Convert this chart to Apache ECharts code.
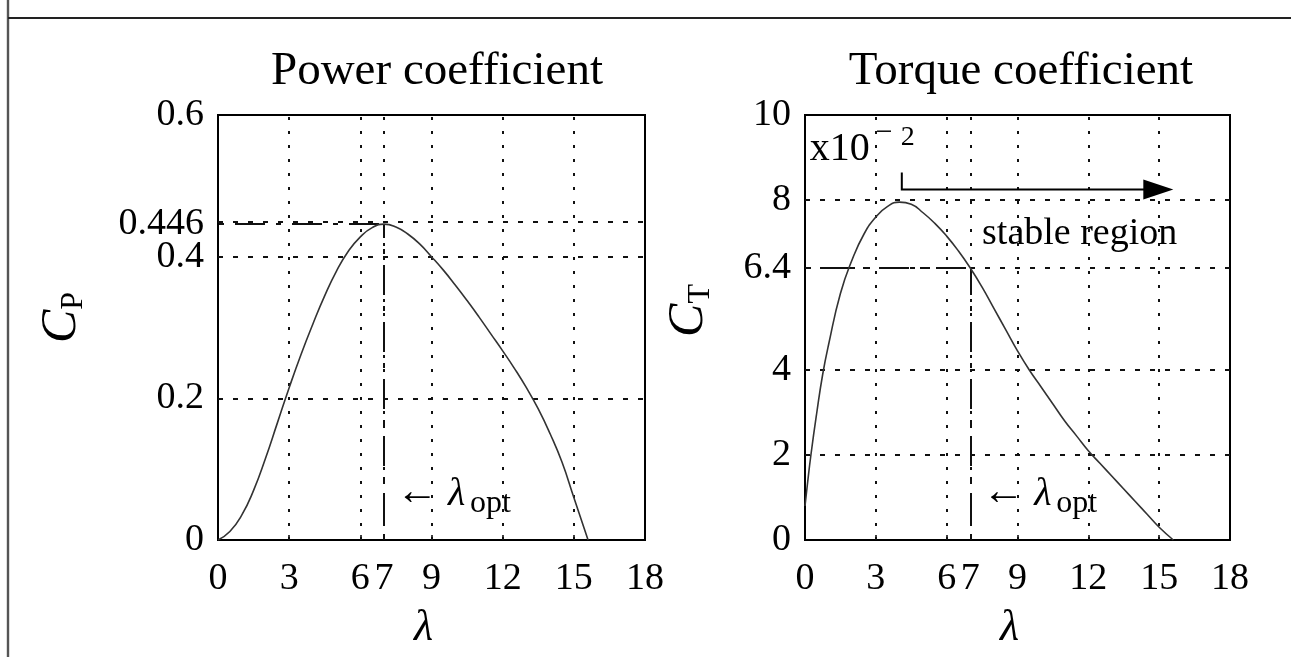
<!DOCTYPE html>
<html>
<head>
<meta charset="utf-8">
<script src="https://cdn.jsdelivr.net/npm/echarts@6/dist/echarts.min.js"></script>
<style>
  html, body { margin: 0; padding: 0; background: #fff; }
  #chart { width: 1291px; height: 657px; }
</style>
</head>
<body>
<div id="chart"></div>
<script>
// Tip speed ratio samples and power coefficient C_P
const lambdaCp = [0, 0.5, 1, 1.5, 2, 2.5, 3, 3.5, 4, 4.5, 5, 5.5, 6, 6.5, 7, 7.5, 8, 8.5, 9, 9.5, 10, 10.5, 11, 11.5, 12, 12.5, 13, 13.5, 14, 14.5, 15, 15.6];
const cpValues = [0, 0.012, 0.035, 0.07, 0.115, 0.165, 0.215, 0.262, 0.305, 0.345, 0.38, 0.408, 0.428, 0.441, 0.446, 0.442, 0.432, 0.418, 0.4, 0.381, 0.36, 0.338, 0.315, 0.291, 0.267, 0.242, 0.215, 0.185, 0.15, 0.11, 0.06, 0];

// Tip speed ratio samples and torque coefficient C_T (units of 1e-2)
const lambdaCt = [0, 0.1, 0.25, 0.5, 0.75, 1, 1.5, 2, 2.5, 3, 3.5, 4, 4.5, 5, 5.5, 6, 6.5, 7, 7.5, 8, 8.5, 9, 9.5, 10, 10.5, 11, 11.5, 12, 12.5, 13, 13.5, 14, 14.5, 15, 15.6];
const ctValues = [0.8, 1.3, 2.0, 3.0, 3.9, 4.6, 5.8, 6.6, 7.2, 7.6, 7.85, 7.95, 7.9, 7.7, 7.45, 7.15, 6.8, 6.4, 5.95, 5.45, 4.95, 4.45, 4.0, 3.6, 3.2, 2.8, 2.45, 2.1, 1.8, 1.5, 1.2, 0.9, 0.6, 0.3, 0];

// Axis ticks
const xTickValues = [0, 3, 6, 7, 9, 12, 15, 18];
const cpTickValues = [0, 0.2, 0.4, 0.446, 0.6];
const ctTickValues = [0, 2, 4, 6.4, 8, 10];

// Interior grid lines
const xGridValues = [3, 6, 7, 9, 12, 15];
const cpGridValues = [0.2, 0.4, 0.446];
const ctGridValues = [2, 4, 6.4, 8];

// Optimum operating point
const lambdaOpt = 7;
const cpMax = 0.446;
const ctAtOpt = 6.4;

// Stable-region arrow (lambda range, C_T level)
const stableFrom = 4.1;
const stableTo = 15.6;
const stableLevel = 8.25;
const stableTickTop = 8.65;

const FONT = '"Liberation Serif", "Times New Roman", "DejaVu Serif", serif';
const INK = '#000';

const chart = echarts.init(document.getElementById('chart'), null, { renderer: 'canvas' });

function pairs(xs, ys) { return xs.map((x, i) => [x, ys[i]]); }

function gridLines(xVals, yVals) {
  const data = [];
  xVals.forEach(v => data.push({ xAxis: v, lineStyle: { type: [3, 11], width: 2, color: '#111' } }));
  yVals.forEach(v => data.push({ yAxis: v, lineStyle: { type: [5, 10], width: 2, color: '#111' } }));
  return data;
}

function dashDot(a, b) {
  const ls = { type: [30, 11, 5, 11], dashOffset: 40, width: 2, color: '#111' };
  return [{ coord: a, lineStyle: ls }, { coord: b, lineStyle: ls }];
}

function xAxisCfg(gi) {
  return {
    gridIndex: gi, type: 'value', min: 0, max: 18, interval: 1,
    axisLine: { show: false },
    splitLine: { show: false },
    axisTick: { show: true, inside: true, length: 5, customValues: xTickValues, lineStyle: { color: INK, width: 1.5 } },
    axisLabel: {
      customValues: xTickValues, hideOverlap: false, margin: 20,
      formatter: v => String(v),
      fontFamily: FONT, fontSize: 38, color: INK
    },
    name: 'λ', nameLocation: 'middle', nameGap: 66,
    nameTextStyle: { fontFamily: FONT, fontStyle: 'italic', fontSize: 44, color: INK, padding: [0, 16, 0, 0] }
  };
}

function yAxisCfg(gi, max, ticks, sub, gap, shift) {
  return {
    gridIndex: gi, type: 'value', min: 0, max: max,
    axisLine: { show: false },
    splitLine: { show: false },
    axisTick: { show: true, inside: true, length: 5, customValues: ticks, lineStyle: { color: INK, width: 1.5 } },
    axisLabel: {
      customValues: ticks, hideOverlap: false, margin: 14,
      formatter: v => String(v),
      fontFamily: FONT, fontSize: 38, color: INK
    },
    name: '{c|C}{s|' + sub + '}', nameLocation: 'middle', nameRotate: 90, nameGap: gap,
    nameTextStyle: {
      padding: [0, 0, 0, shift],
      rich: {
        c: { fontFamily: FONT, fontStyle: 'italic', fontSize: 50, lineHeight: 50, color: INK, verticalAlign: 'bottom', padding: [0, 0, 3, 0] },
        s: { fontFamily: FONT, fontSize: 32, lineHeight: 32, color: INK, verticalAlign: 'bottom' }
      }
    }
  };
}

const option = {
  animation: false,
  backgroundColor: '#fff',
  textStyle: { fontFamily: FONT, color: INK },
  title: [
    { text: 'Power coefficient', left: 432, top: 43, textAlign: 'center',
      textStyle: { fontFamily: FONT, fontSize: 47, fontWeight: 'normal', color: INK } },
    { text: 'Torque coefficient', left: 1016, top: 43, textAlign: 'center',
      textStyle: { fontFamily: FONT, fontSize: 47, fontWeight: 'normal', color: INK } }
  ],
  grid: [
    { left: 218, top: 115, width: 427, height: 425, containLabel: false, outerBoundsMode: 'none',
      show: true, borderColor: INK, borderWidth: 2, backgroundColor: 'transparent' },
    { left: 805, top: 115, width: 425, height: 425, containLabel: false, outerBoundsMode: 'none',
      show: true, borderColor: INK, borderWidth: 2, backgroundColor: 'transparent' }
  ],
  xAxis: [xAxisCfg(0), xAxisCfg(1)],
  yAxis: [
    yAxisCfg(0, 0.6, cpTickValues, 'P', 128, 20),
    yAxisCfg(1, 10, ctTickValues, 'T', 88, 34)
  ],
  series: [
    {
      name: 'C_P', type: 'line', xAxisIndex: 0, yAxisIndex: 0,
      data: pairs(lambdaCp, cpValues), smooth: true, symbol: 'none', z: 5,
      lineStyle: { color: '#333', width: 1.6 },
      markLine: {
        silent: true, symbol: ['none', 'none'], label: { show: false }, z: 2,
        data: gridLines(xGridValues, cpGridValues).concat([
          dashDot([0, cpMax], [lambdaOpt, cpMax]),
          dashDot([lambdaOpt, 0], [lambdaOpt, cpMax])
        ])
      }
    },
    {
      name: 'C_T', type: 'line', xAxisIndex: 1, yAxisIndex: 1,
      data: pairs(lambdaCt, ctValues), smooth: true, symbol: 'none', z: 5,
      lineStyle: { color: '#333', width: 1.6 },
      markLine: {
        silent: true, symbol: ['none', 'none'], label: { show: false }, z: 2,
        data: gridLines(xGridValues, ctGridValues).concat([
          dashDot([0, ctAtOpt], [lambdaOpt, ctAtOpt]),
          dashDot([lambdaOpt, 0], [lambdaOpt, ctAtOpt])
        ])
      }
    }
  ]
};

chart.setOption(option);

// Annotations anchored to data positions
const px = (g, x, y) => chart.convertToPixel({ gridIndex: g }, [x, y]);
// place text so that its alphabetic baseline sits on baselineY
function txt(x, baselineY, text, size, extra) {
  return {
    type: 'text', silent: true, z: 10,
    x: x, y: baselineY - 0.34 * size,
    style: Object.assign({ text: text, fontFamily: FONT, fontSize: size, fill: INK, align: 'left', verticalAlign: 'middle' }, extra || {})
  };
}

const graphics = [];

// page frame
graphics.push({ type: 'line', silent: true, shape: { x1: 8, y1: 0, x2: 8, y2: 657 }, style: { stroke: '#555', lineWidth: 2.4 } });
graphics.push({ type: 'line', silent: true, shape: { x1: 8, y1: 18, x2: 1291, y2: 18 }, style: { stroke: '#222', lineWidth: 2 } });

// lambda_opt markers in both panels
[0, 1].forEach(g => {
  const base = px(g, lambdaOpt, 0);
  graphics.push(txt(base[0] + 12, base[1] - 33, '←', 42));
  graphics.push(txt(base[0] + 64, base[1] - 32, 'λ', 40, { fontStyle: 'italic' }));
  graphics.push(txt(base[0] + 86, base[1] - 26, 'opt', 32));
});

// scale factor label
const sc = px(1, 0.2, 0);
graphics.push(txt(sc[0], 163, 'x10', 40));
graphics.push(txt(sc[0] + 66, 143, '−', 30));
graphics.push(txt(sc[0] + 91, 147, '2', 28));

// stable region arrow
const a0 = px(1, stableFrom, stableTickTop);
const a1 = px(1, stableFrom, stableLevel);
const a2 = px(1, stableTo, stableLevel);
graphics.push({ type: 'polyline', silent: true, z: 10,
  shape: { points: [a0, a1, [a2[0] - 26, a2[1]]] }, style: { stroke: INK, lineWidth: 2, fill: null } });
graphics.push({ type: 'polygon', silent: true, z: 10,
  shape: { points: [[a2[0], a2[1]], [a2[0] - 30, a2[1] - 10], [a2[0] - 30, a2[1] + 10]] }, style: { fill: INK } });
const sr = px(1, 7.5, 6.9);
graphics.push(txt(sr[0], sr[1], 'stable region', 38));

chart.setOption({ graphic: graphics });
</script>
</body>
</html>
